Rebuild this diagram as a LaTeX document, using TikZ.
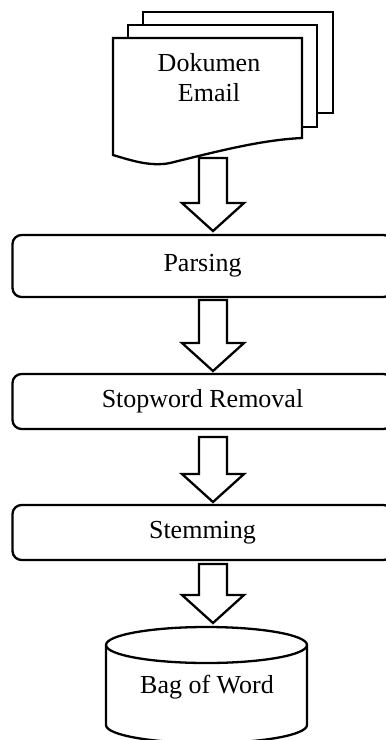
\documentclass[tikz,border=0pt]{standalone}
\usepackage{fontspec}
\setmainfont{Liberation Serif}
\usetikzlibrary{calc}
\tikzset{
  ln/.style={draw=black, line width=2.3pt, line join=miter},
  txt/.style={font=\fontsize{26}{30}\selectfont, inner sep=0pt, align=center},
  procbox/.style={ln, rounded corners=9pt, minimum width=380pt, font=\fontsize{26}{30}\selectfont, inner sep=0pt},
}
\newcommand{\blockarrow}[2]{%
  \draw[ln,fill=white] let \p1=(#1), \p2=(#2) in
  (\x2-14,\y1) -- (\x2+14,\y1) -- (\x2+14,\y2+28) -- (\x2+31,\y2+28) -- (\x2,\y2)
  -- (\x2-31,\y2+28) -- (\x2-14,\y2+28) -- cycle;}
\begin{document}
\begin{tikzpicture}[x=1pt,y=-1pt]
\clip (0,0) rectangle (386,740);
\fill[white] (0,0) rectangle (386,740);
% document stack
\draw[ln,fill=white] (143,12) rectangle (333,113);
\draw[ln,fill=white] (128,25) rectangle (317,127);
\draw[ln,fill=white] (113,38) -- (302,38) -- (302,138)
  .. controls (260,140) and (215,152) .. (170,163)
  .. controls (150,167) and (130,160) .. (113,155) -- cycle;
\node[txt] (doc) at (209,78) {Dokumen\\Email};
% process boxes
\node[procbox, minimum height=62pt] (parse) at (202.5,266) {Parsing};
\node[procbox, minimum height=55pt] (stop) at (202.5,401.5) {Stopword Removal};
\node[procbox, minimum height=55pt] (stem) at (202.5,532.5) {Stemming};
% cylinder
\draw[ln,fill=white] (106,645) -- (106,725)
  arc[start angle=180, end angle=0, x radius=100.5, y radius=18]
  -- (307,645)
  arc[start angle=0, end angle=-180, x radius=100.5, y radius=18] -- cycle;
\draw[ln] (106,645) arc[start angle=180, end angle=0, x radius=100.5, y radius=18];
\node[txt] (bow) at (207,687) {Bag of Word};
% arrow anchors
\coordinate (a1s) at (213,158);
\coordinate (a1t) at (213,231);
\coordinate (a2s) at (213,300);
\coordinate (a2t) at (213,371);
\coordinate (a3s) at (213,437);
\coordinate (a3t) at (213,502);
\coordinate (a4s) at (213,564);
\coordinate (a4t) at (213,623);
\blockarrow{a1s}{a1t}
\blockarrow{a2s}{a2t}
\blockarrow{a3s}{a3t}
\blockarrow{a4s}{a4t}
\end{tikzpicture}
\end{document}
